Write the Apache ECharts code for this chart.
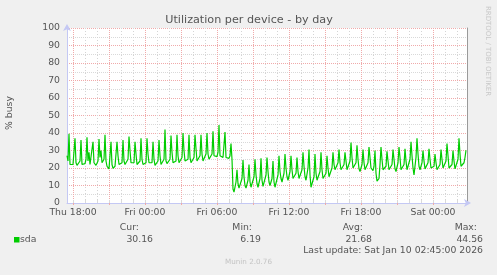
<!DOCTYPE html>
<html>
<head>
<meta charset="utf-8">
<script src="https://cdn.jsdelivr.net/npm/echarts@6/dist/echarts.min.js"></script>
<style>
html,body{margin:0;padding:0;background:#f0f0f0;}
#c{width:497px;height:275px;}
</style>
</head>
<body>
<div id="c"></div>
<script>
// ---- data ----
const titleText = 'Utilization per device - by day';
const yAxisName = '% busy';
const seriesName = 'sda';
const dayNames = ['Thu', 'Fri', 'Sat'];
const startMinute = 17 * 60 + 30;   // Thu 17:30 (first sample)
const stepMinutes = 5;
const tickLabels = ['Thu 18:00', 'Fri 00:00', 'Fri 06:00', 'Fri 12:00', 'Fri 18:00', 'Sat 00:00'];
const yTicks = [0, 10, 20, 30, 40, 50, 60, 70, 80, 90, 100];
const statHeaders = ['Cur:', 'Min:', 'Avg:', 'Max:'];
const statValues = ['30.16', '6.19', '21.68', '44.56'];
const lastUpdate = 'Last update: Sat Jan 10 02:45:00 2026';
const footer = 'Munin 2.0.76';
const sideText = 'RRDTOOL / TOBI OETIKER';

// % busy, one value per 5 minutes
const busy = [
  27, 24, 39.5, 22, 21, 21.5,
  22, 23, 37, 23, 21.5, 22,
  22, 24, 36, 22, 21.5, 22,
  22.5, 25, 37.5, 24, 29, 22,
  22, 23, 35, 23, 22, 21.5,
  22, 24, 36.5, 26, 30, 23,
  23, 25, 39, 24, 21, 20,
  19.5, 20, 35, 22, 19.8, 20,
  21, 22, 35, 27, 22, 21,
  21, 23, 36, 24, 22, 21.5,
  22, 25, 38, 30, 23, 22,
  22, 23, 35, 28, 22, 21.5,
  22, 24, 37, 25, 22, 21.5,
  21.5, 23, 37, 28, 23, 22,
  22, 23, 35, 25, 21.5, 21,
  21.5, 24, 36, 27, 22, 21.5,
  22, 25, 42, 24, 22.5, 22.5,
  23, 25, 38.5, 29, 23, 22.5,
  22.5, 24, 39, 27, 23, 22.5,
  23, 26, 40, 30, 24, 23,
  23, 25, 39, 26, 23, 23,
  23, 26, 39, 31, 24, 23.5,
  23.5, 27, 39, 28, 24, 24,
  25, 28, 40, 28, 25, 25,
  25.5, 28, 41, 27, 26, 26,
  26.5, 29, 44.56, 27, 26.5, 26.5,
  26, 27, 40.5, 26, 25.5, 25.5,
  25.5, 27, 34, 25, 8, 6.19,
  7, 12, 19, 11, 8.5, 8,
  8.5, 14, 24.5, 15, 10, 8.5,
  8.5, 13, 22, 12, 9, 8.5,
  9, 15, 25, 16, 11, 9,
  8.5, 14, 25.5, 13, 9.5, 9,
  9, 16, 26, 18, 12, 10,
  9.5, 14, 24, 12, 9, 8.5,
  10, 16, 27, 18, 14, 12,
  12, 17, 28, 20, 15, 13,
  13, 18, 27, 19, 14, 13,
  13, 17, 26, 18, 14, 13.5,
  13, 19, 29, 21, 15, 13,
  12, 20, 30.5, 16, 9, 8.5,
  9, 15, 28, 17, 13, 12,
  12.5, 18, 29, 19, 14, 13,
  13, 17, 27, 20, 15, 14,
  15, 20, 29, 22, 19, 18.5,
  19, 23, 30.5, 23, 19, 18.5,
  18.5, 22, 29, 24, 19, 19,
  19.5, 24, 34.5, 26, 20, 19,
  19, 23, 33, 25, 19.5, 18,
  18, 22, 30.5, 23, 19, 18,
  19, 23, 32, 26, 20, 19,
  18.5, 21, 30, 17, 12.5, 12,
  14, 22, 32, 25, 19, 18,
  18, 21, 29.5, 24, 19, 18,
  18, 22, 30.5, 25, 19.5, 18,
  18.5, 23, 32, 26, 19, 18.5,
  18.5, 22, 31, 24, 19, 19,
  19, 25, 35, 27, 20, 16,
  17, 26, 37, 28, 21, 19,
  19, 23, 30, 24, 19.5, 19,
  19, 23, 31, 25, 20, 19,
  19, 21, 28, 23, 19, 18.5,
  18.5, 22, 30.5, 25, 20, 19,
  19, 24, 34, 27, 20, 19,
  19, 22, 30, 24, 19.5, 19,
  19.5, 25, 37, 28, 21, 20,
  20, 23, 26, 30.16
];

// ---- categories (one per 5-minute slot, plus the closing edge) ----
function two(n) { return (n < 10 ? '0' : '') + n; }
const categories = [];
for (let i = 0; i <= busy.length; i++) {
  const m = startMinute + i * stepMinutes;
  const d = Math.floor(m / 1440);
  const hh = Math.floor((m % 1440) / 60);
  const mm = m % 60;
  categories.push(dayNames[d] + ' ' + two(hh) + ':' + two(mm));
}
function isHour(idx) { return categories[idx].slice(-2) === '00'; }
function isThreeHour(idx) {
  const s = categories[idx];
  return s.slice(-2) === '00' && (parseInt(s.slice(-5, -3), 10) % 3 === 0);
}

const TXT = '#555555';
const FONT = '9.3px "DejaVu Sans"';
const AXIS_BLUE = '#c4c8f4';
const MAJOR = '#f0aaaa';
const MINOR = '#d9d9d9';
const MINOR_V = '#d4d4d4';
const GREEN = '#00cc00';

const L = 67, R = 467, T = 28, B = 203;

const chart = echarts.init(document.getElementById('c'), null, { renderer: 'canvas' });

const graphics = [
  { type: 'text', x: 249, y: 20.5, style: { text: titleText, fill: TXT, font: '11.2px "DejaVu Sans"', align: 'center', verticalAlign: 'middle' } },
  { type: 'text', x: 10, y: 113, rotation: Math.PI / 2, style: { text: yAxisName, fill: TXT, font: FONT, align: 'center', verticalAlign: 'middle' } },
  { type: 'text', x: 487.5, y: 51, rotation: -Math.PI / 2, style: { text: sideText, fill: '#c8c8c8', font: '7px "DejaVu Sans"', align: 'center', verticalAlign: 'middle' } },
  { type: 'rect', shape: { x: 14, y: 237, width: 5.5, height: 5.5 }, style: { fill: GREEN } },
  { type: 'text', x: 20, y: 239.5, style: { text: seriesName, fill: TXT, font: FONT, align: 'left', verticalAlign: 'middle' } },
  { type: 'text', x: 483, y: 251, style: { text: lastUpdate, fill: TXT, font: FONT, align: 'right', verticalAlign: 'middle' } },
  { type: 'text', x: 248.5, y: 262.5, style: { text: footer, fill: '#c4c4c4', font: '7.2px "DejaVu Sans"', align: 'center', verticalAlign: 'middle' } }
];
const headerRight = [139, 252, 363, 477];
const valueRight = [153, 261, 372, 483];
statHeaders.forEach(function (h, k) {
  graphics.push({ type: 'text', x: headerRight[k], y: 227.5, style: { text: h, fill: TXT, font: FONT, align: 'right', verticalAlign: 'middle' } });
  graphics.push({ type: 'text', x: valueRight[k], y: 239.5, style: { text: statValues[k], fill: TXT, font: FONT, align: 'right', verticalAlign: 'middle' } });
});

chart.setOption({
  animation: false,
  backgroundColor: '#f0f0f0',
  grid: { left: L, right: 497 - R, top: T, bottom: 275 - B, show: true, backgroundColor: '#ffffff', borderWidth: 0 },
  xAxis: [
    {
      type: 'category', position: 'top', data: categories, boundaryGap: false,
      axisLine: { show: false },
      axisTick: { show: true, length: 3, interval: function (idx) { return isHour(idx); }, lineStyle: { color: MINOR } },
      axisLabel: { show: false },
      splitLine: { show: true, interval: function (idx) { return isHour(idx) && !isThreeHour(idx); }, lineStyle: { color: MINOR_V, width: 1, type: [1, 2] } }
    },
    {
      type: 'category', position: 'bottom', data: categories, boundaryGap: false,
      axisLine: { show: true, lineStyle: { color: AXIS_BLUE, width: 1 }, symbol: ['none', 'arrow'], symbolSize: [6, 7], symbolOffset: [0, 4] },
      axisTick: { show: true, length: 2, interval: function (idx) { return isThreeHour(idx); }, lineStyle: { color: MAJOR } },
      axisLabel: {
        show: true, color: TXT, fontFamily: 'DejaVu Sans', fontSize: 9.3, margin: 5,
        interval: function (idx, val) { return tickLabels.indexOf(val) >= 0; },
        formatter: function (val) { return val; }
      },
      splitLine: { show: true, interval: function (idx) { return isThreeHour(idx); }, lineStyle: { color: MAJOR, width: 1, type: [1, 1] } }
    }
  ],
  yAxis: [
    {
      type: 'value', min: yTicks[0], max: yTicks[yTicks.length - 1], interval: yTicks[1] - yTicks[0], position: 'left',
      axisLine: { show: true, lineStyle: { color: AXIS_BLUE, width: 1 }, symbol: ['none', 'arrow'], symbolSize: [6, 7], symbolOffset: [0, 4] },
      axisTick: { show: false },
      axisLabel: { color: TXT, fontFamily: 'DejaVu Sans', fontSize: 9.3, margin: 7 },
      splitLine: { show: true, lineStyle: { color: MAJOR, width: 1, type: [1, 1] } },
      minorTick: { show: false, splitNumber: 2 },
      minorSplitLine: { show: true, lineStyle: { color: MINOR, width: 1, type: [1, 1] } }
    },
    {
      type: 'value', min: yTicks[0], max: yTicks[yTicks.length - 1], interval: yTicks[1] - yTicks[0], position: 'right',
      axisLine: { show: true, lineStyle: { color: '#9a9a9a', width: 1 } },
      axisTick: { show: false }, axisLabel: { show: false }, splitLine: { show: false }
    }
  ],
  series: [{
    name: seriesName, type: 'line', xAxisIndex: 1, yAxisIndex: 0,
    data: busy, showSymbol: false, symbol: 'none',
    lineStyle: { color: GREEN, width: 1.2 }, itemStyle: { color: GREEN },
    z: 5
  }],
  graphic: graphics
});
</script>
</body>
</html>
